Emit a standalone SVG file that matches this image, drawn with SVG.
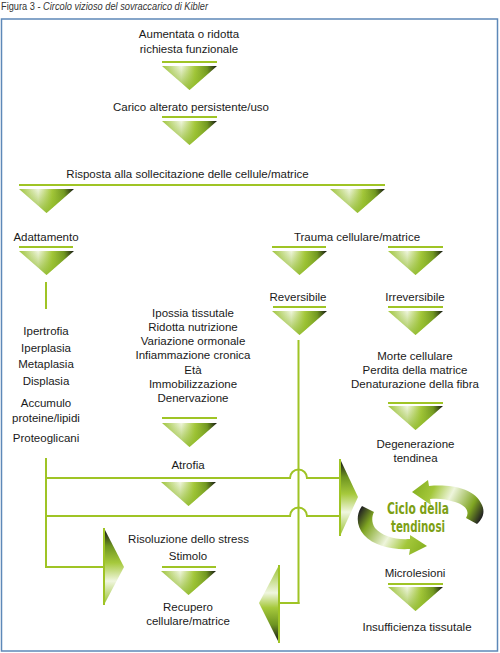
<svg xmlns="http://www.w3.org/2000/svg" xmlns:xlink="http://www.w3.org/1999/xlink" width="500" height="653" viewBox="0 0 500 653">
<style>
.t{font-family:"Liberation Sans",Arial,sans-serif;font-size:11.5px;fill:#1a1a1a;text-anchor:middle}
.ln{stroke:#9fc425;stroke-width:2;fill:none}
.cyc{font-family:"Liberation Sans Narrow","DejaVu Sans Condensed","Liberation Sans",sans-serif;font-weight:bold;font-size:15.5px;fill:#7d9f14;text-anchor:middle}
</style>
<defs>
<linearGradient id="tg" x1="0" y1="0" x2="1" y2="0">
<stop offset="0" stop-color="#9ec43a"/>
<stop offset="0.35" stop-color="#f0f6df"/>
<stop offset="0.6" stop-color="#a6c93c"/>
<stop offset="0.82" stop-color="#6e9420"/>
<stop offset="1" stop-color="#111"/>
</linearGradient>
<linearGradient id="tv" x1="0" y1="0" x2="0" y2="1">
<stop offset="0" stop-color="#8db827" stop-opacity="0"/>
<stop offset="1" stop-color="#8db827" stop-opacity="0.85"/>
</linearGradient>
<linearGradient id="vg" x1="0" y1="0" x2="0" y2="1">
<stop offset="0" stop-color="#1a1a1a"/>
<stop offset="0.22" stop-color="#6e9420"/>
<stop offset="0.45" stop-color="#a6c93c"/>
<stop offset="0.7" stop-color="#f0f6df"/>
<stop offset="1" stop-color="#9ec43a"/>
</linearGradient>
<linearGradient id="vgr" x1="0" y1="1" x2="0" y2="0">
<stop offset="0" stop-color="#1a1a1a"/>
<stop offset="0.22" stop-color="#6e9420"/>
<stop offset="0.45" stop-color="#a6c93c"/>
<stop offset="0.65" stop-color="#f0f6df"/>
<stop offset="1" stop-color="#9ec43a"/>
</linearGradient>
<linearGradient id="ca" gradientUnits="userSpaceOnUse" x1="478" y1="524" x2="412" y2="490">
<stop offset="0" stop-color="#222"/>
<stop offset="0.18" stop-color="#7fa522"/>
<stop offset="0.5" stop-color="#eef5dc"/>
<stop offset="0.75" stop-color="#a3c73a"/>
<stop offset="1" stop-color="#86b020"/>
</linearGradient>
<linearGradient id="cb" gradientUnits="userSpaceOnUse" x1="362" y1="507" x2="427" y2="547">
<stop offset="0" stop-color="#222"/>
<stop offset="0.18" stop-color="#7fa522"/>
<stop offset="0.5" stop-color="#eef5dc"/>
<stop offset="0.75" stop-color="#a3c73a"/>
<stop offset="1" stop-color="#86b020"/>
</linearGradient>
<g id="tri">
<polygon points="0,0 55,0 27.5,24" fill="url(#tg)"/>
<polygon points="0,0 55,0 27.5,24" fill="url(#tv)"/>
</g>
</defs>

<rect x="1.5" y="19" width="496" height="632" fill="#fff" stroke="#5d88b8" stroke-width="1.5"/>

<text x="1" y="10" font-family="Liberation Sans Narrow,Liberation Sans,Arial,sans-serif" font-size="10" fill="#333" textLength="207" lengthAdjust="spacingAndGlyphs">Figura 3 - <tspan font-style="italic">Circolo vizioso del sovraccarico di Kibler</tspan></text>

<g id="connectors">
<line class="ln" x1="19" y1="185" x2="385" y2="185"/>
<line class="ln" x1="46" y1="282" x2="46" y2="309"/>
<line class="ln" x1="46" y1="458" x2="46" y2="568"/>
<path class="ln" d="M46,478 H290 A8.5,8.5 0 0 1 307,478 H340"/>
<path class="ln" d="M46,516 H290 A8.5,8.5 0 0 1 307,516 H340"/>
<line class="ln" x1="45" y1="567" x2="104" y2="567"/>
<line class="ln" x1="298.5" y1="340" x2="298.5" y2="604"/>
<line class="ln" x1="299.5" y1="603" x2="279" y2="603"/>
<line class="ln" x1="104" y1="528" x2="104" y2="605"/>
<polygon points="105,530 124,567 105,603" fill="url(#vg)"/>
<line class="ln" x1="340" y1="459" x2="340" y2="536"/>
<polygon points="341,461 358,497 341,534" fill="url(#vg)"/>
<line class="ln" x1="279" y1="565" x2="279" y2="643"/>
<polygon points="278,567 259,603 278,641" fill="url(#vgr)"/>
</g>

<g id="n-aumentata">
<text class="t" x="189" y="38">Aumentata o ridotta</text>
<text class="t" x="189" y="53">richiesta funzionale</text>
<line class="ln" x1="162" y1="62" x2="217" y2="62"/>
<use xlink:href="#tri" x="162" y="66"/>
</g>
<g id="n-carico">
<text class="t" x="191" y="111">Carico alterato persistente/uso</text>
<line class="ln" x1="162" y1="117" x2="217" y2="117"/>
<use xlink:href="#tri" x="162" y="121"/>
</g>
<g id="n-risposta">
<text class="t" x="187.5" y="178">Risposta alla sollecitazione delle cellule/matrice</text>
<use xlink:href="#tri" x="19" y="189"/>
<use xlink:href="#tri" x="330" y="189"/>
</g>
<g id="n-adattamento">
<text class="t" x="46" y="241">Adattamento</text>
<line class="ln" x1="19" y1="247" x2="73" y2="247"/>
<use xlink:href="#tri" x="19" y="251"/>
</g>
<g id="n-trauma">
<text class="t" x="357" y="241">Trauma cellulare/matrice</text>
<line class="ln" x1="272" y1="247" x2="326" y2="247"/>
<use xlink:href="#tri" x="272" y="251"/>
<line class="ln" x1="388" y1="247" x2="443" y2="247"/>
<use xlink:href="#tri" x="388" y="251"/>
</g>
<g id="n-reversibile">
<text class="t" x="298" y="301">Reversibile</text>
<line class="ln" x1="273" y1="307" x2="326" y2="307"/>
<use xlink:href="#tri" x="272" y="311"/>
</g>
<g id="n-irreversibile">
<text class="t" x="415" y="301">Irreversibile</text>
<line class="ln" x1="388" y1="307" x2="443" y2="307"/>
<use xlink:href="#tri" x="388" y="311"/>
</g>
<g id="n-adattamento-list">
<text class="t" x="46" y="335">Ipertrofia</text>
<text class="t" x="46" y="352">Iperplasia</text>
<text class="t" x="46" y="368">Metaplasia</text>
<text class="t" x="46" y="385">Displasia</text>
<text class="t" x="46" y="407">Accumulo</text>
<text class="t" x="46" y="422">proteine/lipidi</text>
<text class="t" x="46" y="442">Proteoglicani</text>
</g>
<g id="n-cause">
<text class="t" x="193" y="317">Ipossia tissutale</text>
<text class="t" x="193" y="331">Ridotta nutrizione</text>
<text class="t" x="193" y="345">Variazione ormonale</text>
<text class="t" x="193" y="359">Infiammazione cronica</text>
<text class="t" x="193" y="374">Età</text>
<text class="t" x="193" y="388">Immobilizzazione</text>
<text class="t" x="193" y="402">Denervazione</text>
<line class="ln" x1="162" y1="418" x2="217" y2="418"/>
<use xlink:href="#tri" x="162" y="423"/>
</g>
<g id="n-morte">
<text class="t" x="415" y="360">Morte cellulare</text>
<text class="t" x="415" y="374">Perdita della matrice</text>
<text class="t" x="415" y="388">Denaturazione della fibra</text>
<line class="ln" x1="388" y1="403" x2="443" y2="403"/>
<use xlink:href="#tri" x="388" y="406"/>
</g>
<g id="n-degenerazione">
<text class="t" x="415.5" y="448">Degenerazione</text>
<text class="t" x="415.5" y="462">tendinea</text>
</g>
<g id="n-atrofia">
<text class="t" x="188" y="469">Atrofia</text>
<use xlink:href="#tri" x="161" y="482"/>
</g>
<g id="n-risoluzione">
<text class="t" x="188.5" y="543">Risoluzione dello stress</text>
<text class="t" x="188" y="560">Stimolo</text>
<line class="ln" x1="162" y1="567" x2="216" y2="567"/>
<use xlink:href="#tri" x="161" y="571"/>
</g>
<g id="n-recupero">
<text class="t" x="188" y="611">Recupero</text>
<text class="t" x="188" y="625">cellulare/matrice</text>
</g>
<g id="n-ciclo">
<path d="M412,492 L428,480 L429,486 C450,484 475,488 482,505 C486,514 481,520 477,524 L466,518 C470,512 466,505 455,502 C446,499 438,498 430,499 L431,505 Z" fill="url(#ca)"/>
<path d="M427,546 L410,535 L410,539 C395,540 382,536 375,528 C371,522 372,516 374,512 L362,506 C356,514 356,526 364,535 C374,546 392,550 410,549 L409,555 Z" fill="url(#cb)"/>
<text class="cyc" x="418" y="514" textLength="62" lengthAdjust="spacingAndGlyphs">Ciclo della</text>
<text class="cyc" x="418" y="532" textLength="54" lengthAdjust="spacingAndGlyphs">tendinosi</text>
</g>
<g id="n-microlesioni">
<text class="t" x="415" y="577">Microlesioni</text>
<line class="ln" x1="388" y1="584" x2="443" y2="584"/>
<use xlink:href="#tri" x="388" y="587"/>
</g>
<g id="n-insufficienza">
<text class="t" x="417" y="631">Insufficienza tissutale</text>
</g>
</svg>
